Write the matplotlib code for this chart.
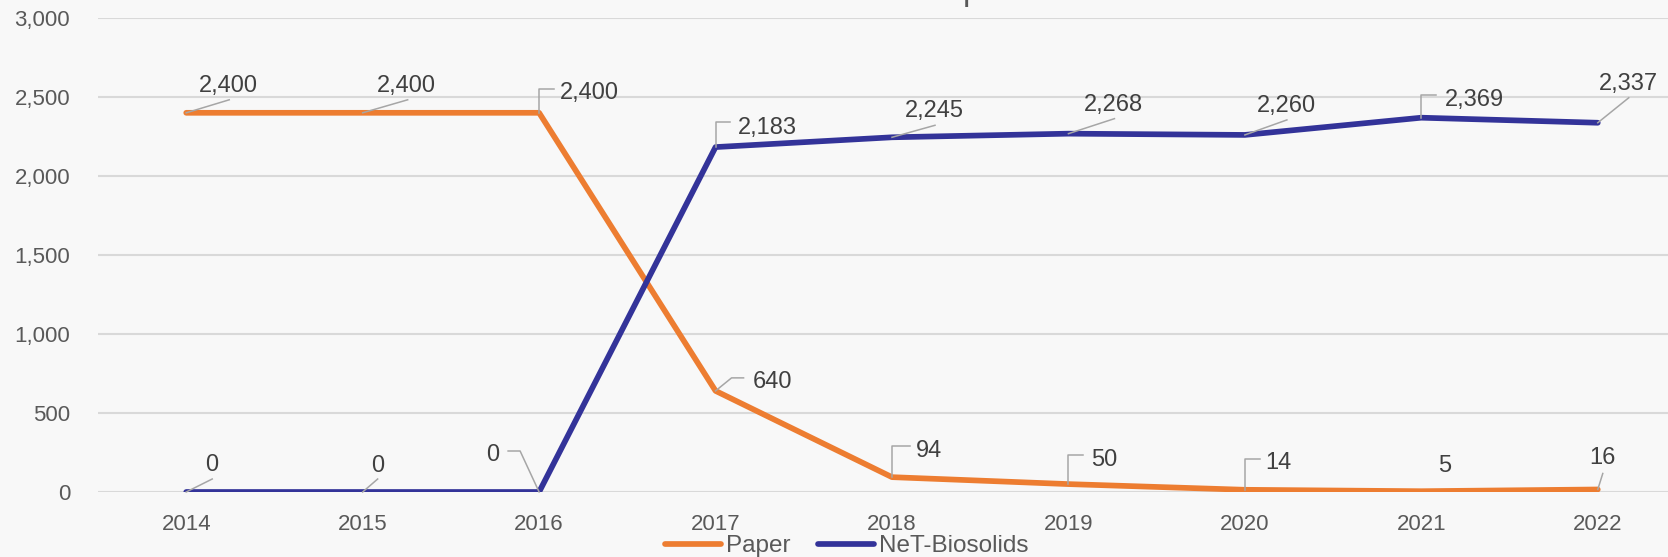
import matplotlib.pyplot as plt
import matplotlib.transforms as mtransforms
from matplotlib.lines import Line2D
from matplotlib.ticker import FuncFormatter

plt.rcParams['font.family'] = ['Liberation Sans', 'DejaVu Sans']

years = ['2014', '2015', '2016', '2017', '2018', '2019', '2020', '2021', '2022']
paper = [2400, 2400, 2400, 640, 94, 50, 14, 5, 16]
biosolids = [0, 0, 0, 2183, 2245, 2268, 2260, 2369, 2337]
y_ticks = [0, 500, 1000, 1500, 2000, 2500, 3000]

ORANGE = '#ED7D31'
BLUE = '#333399'
BG = '#F8F8F8'

# leader-line vertices and label offsets, in pixels (y up) from each point
paper_leaders = [
    ([(0, 0), (43, 13)], (42, 27), 'center'),
    ([(0, 0), (45, 13)], (44, 27), 'center'),
    ([(0, 0), (0, 24), (15, 24)], (21, 20), 'left'),
    ([(0, 0), (16, 13), (28, 13)], (37, 9), 'left'),
    ([(0, 0), (0, 31), (18, 31)], (24, 26), 'left'),
    ([(0, 0), (0, 29), (15, 29)], (23, 24), 'left'),
    ([(0, 0), (0, 31), (15, 31)], (20, 27), 'left'),
    (None, (23, 25), 'center'),
    ([(0, 0), (5, 16)], (5, 31), 'center'),
]
bio_leaders = [
    ([(0, 0), (26, 13)], (25, 27), 'center'),
    ([(0, 0), (15, 13)], (15, 26), 'center'),
    ([(0, 0), (-19, 41), (-31, 41)], (-40, 37), 'right'),
    ([(0, 0), (0, 25), (14, 25)], (22, 19), 'left'),
    ([(0, 0), (43, 12)], (42, 26), 'center'),
    ([(0, 0), (46, 15)], (45, 29), 'center'),
    ([(0, 0), (42, 15)], (42, 29), 'center'),
    ([(0, 0), (0, 23), (15, 23)], (24, 18), 'left'),
    ([(0, 0), (31, 25)], (31, 39), 'center'),
]

W, H = 1668, 557
fig = plt.figure(figsize=(W / 100, H / 100), dpi=100, facecolor=BG)
# plot area runs a little past the right edge, as in the cropped original
ax = fig.add_axes([98 / W, (H - 492) / H, (1686 - 98) / W, (492 - 18) / H])
ax.set_facecolor(BG)

x = list(range(len(years)))
ax.plot(x, paper, color=ORANGE, lw=4.1, solid_capstyle='round', solid_joinstyle='round',
        label='Paper', zorder=3)
ax.plot(x, biosolids, color=BLUE, lw=4.1, solid_capstyle='round', solid_joinstyle='round',
        label='NeT-Biosolids', zorder=3)

ax.set_xlim(-0.5, len(years) - 0.5)
ax.set_ylim(0, 3000)
ax.set_xticks(x)
ax.set_xticklabels(years)
ax.set_yticks(y_ticks)
ax.yaxis.set_major_formatter(FuncFormatter(lambda v, p: f'{int(v):,}'))
ax.tick_params(axis='both', length=0, labelsize=16, labelcolor='#595959')
ax.tick_params(axis='y', pad=20)
ax.tick_params(axis='x', pad=16)
ax.grid(axis='y', color='#D9D9D9', lw=1.5, zorder=0)
for s in ax.spines.values():
    s.set_visible(False)


def add_labels(values, leaders):
    for i, (v, (verts, (tx, ty), ha)) in enumerate(zip(values, leaders)):
        base = ax.transData
        if verts:
            xs = [dx for dx, dy in verts]
            ys = [dy for dx, dy in verts]
            ln = Line2D(xs, ys, color='#A6A6A6', lw=1.1, zorder=4,
                        transform=mtransforms.Affine2D().translate(
                            *base.transform((i, v))))
            ln.set_clip_on(False)
            fig.add_artist(ln)
        ax.annotate(f'{v:,}', xy=(i, v), xytext=(tx, ty), textcoords='offset pixels',
                    ha=ha, va='center', fontsize=17, color='#404040', zorder=5,
                    annotation_clip=False)


add_labels(paper, paper_leaders)
add_labels(biosolids, bio_leaders)

fig.legend(loc='center', bbox_to_anchor=(847 / W, (H - 546) / H), ncol=2, frameon=False,
           fontsize=17.5, labelcolor='#595959', handlelength=2.3, handletextpad=0.2,
           columnspacing=1.15, borderpad=0, borderaxespad=0)

# descender of the chart title, the rest of it is cropped off above the image
fig.text(963 / W, 1.0, 'p', ha='left', va='baseline', fontsize=24, color='#595959')

fig.savefig('out.png', dpi=100, facecolor=BG)
